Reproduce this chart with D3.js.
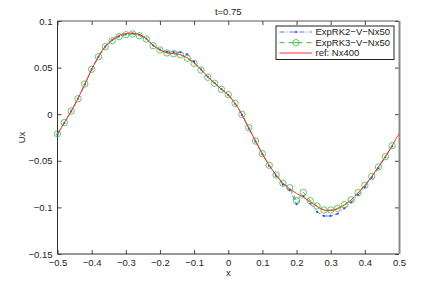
<!DOCTYPE html>
<html>
<head>
<meta charset="utf-8">
<script src="https://cdn.jsdelivr.net/npm/d3@7"></script>
<style>
    body { margin: 0; background: #fff; }
    svg { display: block; font-family: "Liberation Sans", Arial, sans-serif; }
</style>
</head>
<body>
<div id="container"></div>
<script>
const WIDTH = 441;
const HEIGHT = 287;
// 坐标轴区域
const X1 = 57.5, X2 = 399, Y1 = 21, Y2 = 254;

// x 网格 (50 个点, 周期)
const xs = d3.range(50).map((i) => -0.5 + i * 0.02);
// ref 曲线采样 (多一个 x=0.5 的端点)
const xsRef = d3.range(51).map((i) => -0.5 + i * 0.02);

const rk2 = [-0.022, -0.0095, 0.003, 0.0165, 0.032, 0.048, 0.0615, 0.0725, 0.0795, 0.0835,
    0.0857, 0.0866, 0.0852, 0.0812, 0.0738, 0.0692, 0.0668, 0.0667, 0.0665, 0.0643,
    0.0562, 0.0482, 0.0402, 0.0335, 0.0268, 0.0205, 0.0112, -0.0008, -0.0152, -0.0295,
    -0.043, -0.0555, -0.0662, -0.0755, -0.0815, -0.0965, -0.0878, -0.0958, -0.1048, -0.1092,
    -0.1092, -0.1068, -0.101, -0.0945, -0.0868, -0.078, -0.068, -0.0578, -0.0462, -0.0345];

const rk3 = [-0.021, -0.009, 0.0034, 0.0166, 0.0324, 0.0482, 0.0617, 0.0724, 0.0789, 0.0832,
    0.0853, 0.0861, 0.0842, 0.0807, 0.0735, 0.0689, 0.0657, 0.0649, 0.0638, 0.060,
    0.0546, 0.0474, 0.0396, 0.0332, 0.0267, 0.021, 0.0117, -0.0001, -0.0145, -0.0288,
    -0.0424, -0.0548, -0.0652, -0.0741, -0.0789, -0.0928, -0.0838, -0.0928, -0.0985, -0.1028,
    -0.1028, -0.101, -0.0971, -0.092, -0.0842, -0.0763, -0.0668, -0.0566, -0.0456, -0.0338];

const ref = [-0.021, -0.009, 0.003, 0.017, 0.032, 0.048, 0.062, 0.073, 0.080, 0.0845,
    0.0865, 0.087, 0.0855, 0.081, 0.074, 0.069, 0.066, 0.065, 0.064, 0.0605,
    0.055, 0.048, 0.040, 0.0335, 0.027, 0.021, 0.0115, 0.0, -0.0145, -0.029,
    -0.0425, -0.055, -0.065, -0.074, -0.080, -0.085, -0.089, -0.094, -0.099, -0.1028,
    -0.1035, -0.1015, -0.0975, -0.092, -0.0845, -0.0765, -0.0668, -0.0565, -0.0455, -0.0335,
    -0.021];

const xTicks = [-0.5, -0.4, -0.3, -0.2, -0.1, 0, 0.1, 0.2, 0.3, 0.4, 0.5];
const yTicks = [-0.15, -0.1, -0.05, 0, 0.05, 0.1];
const legendNames = ["ExpRK2\u2212V\u2212Nx50", "ExpRK3\u2212V\u2212Nx50", "ref: Nx400"];

const BLUE = "#5577ff", BLUE_DOT = "#1f3fff", GREEN = "#3cbb3c", RED = "#ff3333";

const svg = d3.select("#container").append("svg")
    .attr("width", WIDTH)
    .attr("height", HEIGHT);

const x = d3.scaleLinear().domain([-0.5, 0.5]).range([X1, X2]);
const y = d3.scaleLinear().domain([-0.15, 0.1]).range([Y2, Y1]);

// 文字格式: 负号用 U+2212
const fmt = (v) => (v < 0 ? "\u2212" : "") + String(Math.abs(v));

main();

function main() {
    drawAxes();
    drawSeries();
    drawLegend();
}

// 坐标轴
function drawAxes() {
    const ax = svg.append("g").attr("font-size", "9.5px").attr("fill", "#222");
    // 刻度 (四边, 向内)
    const tl = 4;
    const bottom = d3.axisBottom(x).tickValues(xTicks).tickSizeInner(-tl).tickSizeOuter(0)
        .tickPadding(5).tickFormat(fmt);
    const top = d3.axisTop(x).tickValues(xTicks).tickSizeInner(-tl).tickSizeOuter(0).tickFormat("");
    const left = d3.axisLeft(y).tickValues(yTicks).tickSizeInner(-tl).tickSizeOuter(0)
        .tickPadding(5).tickFormat(fmt);
    const right = d3.axisRight(y).tickValues(yTicks).tickSizeInner(-tl).tickSizeOuter(0).tickFormat("");

    [
        ax.append("g").attr("transform", `translate(0,${Y2})`).call(bottom),
        ax.append("g").attr("transform", `translate(0,${Y1})`).call(top),
        ax.append("g").attr("transform", `translate(${X1},0)`).call(left),
        ax.append("g").attr("transform", `translate(${X2},0)`).call(right),
    ].forEach((g) => {
        g.select(".domain").remove();
        g.selectAll("line").attr("stroke", "#444");
        g.selectAll("text").attr("fill", "#222").style("font-size", "9.5px")
            .style("font-family", "Liberation Sans, Arial, sans-serif");
    });

    // 边框
    ax.append("line").attr("x1", X1).attr("x2", X2).attr("y1", Y2).attr("y2", Y2).attr("stroke", "#333");
    ax.append("line").attr("x1", X1).attr("x2", X1).attr("y1", Y1).attr("y2", Y2).attr("stroke", "#333");
    ax.append("line").attr("x1", X1).attr("x2", X2).attr("y1", Y1).attr("y2", Y1).attr("stroke", "#555");
    ax.append("line").attr("x1", X2 + 0.5).attr("x2", X2 + 0.5).attr("y1", Y1).attr("y2", Y2)
        .attr("stroke", "#888").attr("stroke-width", 2);

    // 标题与轴标签
    svg.append("text").attr("x", (X1 + X2) / 2).attr("y", 15).attr("text-anchor", "middle")
        .attr("font-size", "9.5px").attr("fill", "#222").text("t=0.75");
    svg.append("text").attr("x", (X1 + X2) / 2).attr("y", 276).attr("text-anchor", "middle")
        .attr("font-size", "9.5px").attr("fill", "#222").text("x");
    svg.append("text").attr("transform", `translate(25,${(Y1 + Y2) / 2}) rotate(-90)`)
        .attr("text-anchor", "middle").attr("font-size", "9.5px").attr("fill", "#222").text("Ux");
}

// 三条曲线
function drawSeries() {
    const g = svg.append("g");
    const line = d3.line().x((d) => x(d[0])).y((d) => y(d[1]));
    const refLine = d3.line().x((d) => x(d[0])).y((d) => y(d[1])).curve(d3.curveCatmullRom);

    const d2 = xs.map((v, i) => [v, rk2[i]]);
    const d3s = xs.map((v, i) => [v, rk3[i]]);
    const dr = xsRef.map((v, i) => [v, ref[i]]);

    // ExpRK2: 点划线 + 点
    g.append("path").datum(d2).attr("d", line).attr("fill", "none")
        .attr("stroke", BLUE).attr("stroke-width", 1).attr("stroke-dasharray", "5,2,1,2");
    g.selectAll("circle.rk2").data(d2).enter().append("circle").attr("class", "rk2")
        .attr("cx", (d) => x(d[0])).attr("cy", (d) => y(d[1])).attr("r", 1.1).attr("fill", BLUE_DOT);

    // ExpRK3: 虚线 + 圆圈
    g.append("path").datum(d3s).attr("d", line).attr("fill", "none")
        .attr("stroke", GREEN).attr("stroke-width", 1).attr("stroke-dasharray", "5,3");
    g.selectAll("circle.rk3").data(d3s).enter().append("circle").attr("class", "rk3")
        .attr("cx", (d) => x(d[0])).attr("cy", (d) => y(d[1])).attr("r", 3.2)
        .attr("fill", "none").attr("stroke", GREEN).attr("stroke-width", 0.8);

    // ref
    g.append("path").datum(dr).attr("d", refLine).attr("fill", "none")
        .attr("stroke", RED).attr("stroke-width", 1);
}

// 图例
function drawLegend() {
    const lx = 276, ly = 26, lw = 118, lh = 33.5;
    const g = svg.append("g");
    g.append("rect").attr("x", lx).attr("y", ly).attr("width", lw).attr("height", lh)
        .attr("fill", "#fff").attr("stroke", "#222").attr("stroke-width", 1);
    const rows = [32, 42.7, 53];
    const styles = [
        { c: BLUE, dash: "5,2,1,2" },
        { c: GREEN, dash: "5,4" },
        { c: RED, dash: null },
    ];
    legendNames.forEach((name, i) => {
        const ry = rows[i];
        const l = g.append("line").attr("x1", 279.5).attr("x2", 312).attr("y1", ry).attr("y2", ry)
            .attr("stroke", styles[i].c).attr("stroke-width", 1);
        if (styles[i].dash) l.attr("stroke-dasharray", styles[i].dash);
        if (i === 0) {
            g.append("circle").attr("cx", 296).attr("cy", ry).attr("r", 1.1).attr("fill", BLUE_DOT);
        } else if (i === 1) {
            // 圆圈不填充, 线从中穿过
            g.append("circle").attr("cx", 296).attr("cy", ry).attr("r", 3.2).attr("fill", "none")
                .attr("stroke", GREEN).attr("stroke-width", 0.8);
            g.append("line").attr("x1", 293.5).attr("x2", 298.5).attr("y1", ry).attr("y2", ry)
                .attr("stroke", GREEN).attr("stroke-width", 1);
        }
        g.append("text").attr("x", 315.5).attr("y", ry + 3.4).attr("font-size", "9.5px")
            .attr("fill", "#222").text(name);
    });
}
</script>
</body>
</html>
